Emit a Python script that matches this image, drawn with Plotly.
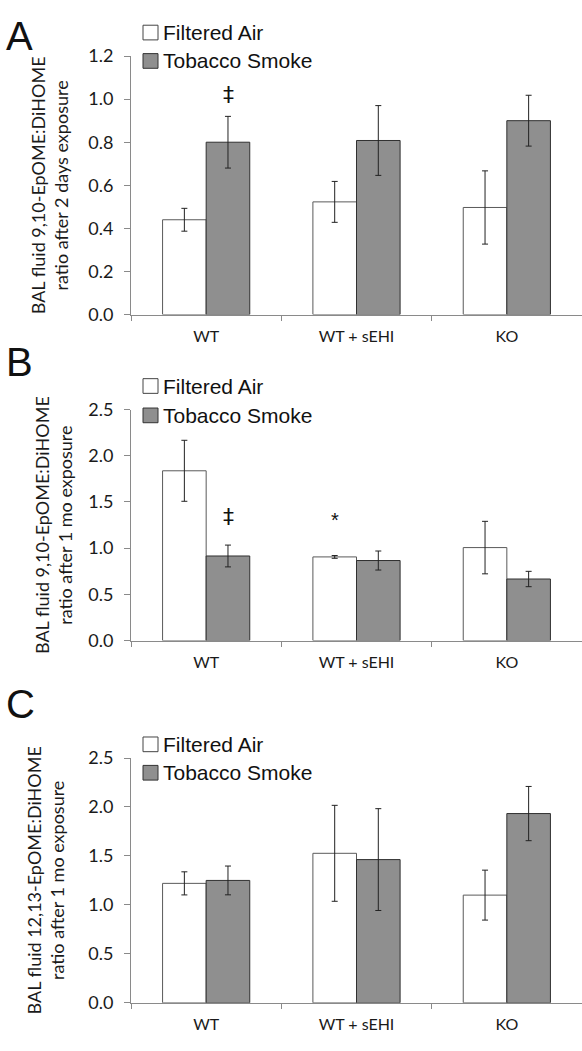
import plotly.graph_objects as go

categories = ["WT", "WT + sEHI", "KO"]
series_names = ["Filtered Air", "Tobacco Smoke"]

# Panel A: 9,10-EpOME:DiHOME, 2 days
a_air = [0.44, 0.523, 0.497]
a_air_err = [0.053, 0.095, 0.17]
a_smoke = [0.80, 0.808, 0.90]
a_smoke_err = [0.12, 0.162, 0.118]

# Panel B: 9,10-EpOME:DiHOME, 1 mo
b_air = [1.837, 0.905, 1.006]
b_air_err = [0.33, 0.015, 0.284]
b_smoke = [0.915, 0.866, 0.666]
b_smoke_err = [0.118, 0.103, 0.083]

# Panel C: 12,13-EpOME:DiHOME, 1 mo
c_air = [1.22, 1.527, 1.10]
c_air_err = [0.118, 0.49, 0.255]
c_smoke = [1.25, 1.463, 1.933]
c_smoke_err = [0.147, 0.52, 0.277]

y_titles = [
    "BAL fluid 9,10-EpOME:DiHOME<br>ratio after 2 days exposure",
    "BAL fluid 9,10-EpOME:DiHOME<br>ratio after 1 mo exposure",
    "BAL fluid 12,13-EpOME:DiHOME<br>ratio after 1 mo exposure",
]
panel_letters = ["A", "B", "C"]
y_ranges = [[0, 1.2], [0, 2.5], [0, 2.5]]
y_dticks = [0.2, 0.5, 0.5]

W, H = 582, 1051
# pixel positions (top, bottom) of each plot area
panel_px = [(45, 309), (406, 642), (762, 1012)]
x_left_px = 131

def py(p):
    return 1 - p / H

AIR_FILL = "#ffffff"
AIR_LINE = "#5a5a5a"
SMOKE_FILL = "#8f8f8f"
SMOKE_LINE = "#303030"
AXIS_COLOR = "#8a8a8a"
TICK_FONT = dict(family="Lato, 'Open Sans', sans-serif", size=18, color="#1a1a1a")

panels = [
    (a_air, a_air_err, a_smoke, a_smoke_err),
    (b_air, b_air_err, b_smoke, b_smoke_err),
    (c_air, c_air_err, c_smoke, c_smoke_err),
]

fig = go.Figure()
layout = dict(
    width=W, height=H,
    margin=dict(l=0, r=0, t=0, b=0),
    paper_bgcolor="white", plot_bgcolor="white",
    showlegend=False,
    barmode="group", bargap=0.42, bargroupgap=0.0,
)
annotations = []
shapes = []

legend_rows = [(21, 50), (382, 412), (748, 777)]
title_x = [49, 53, 45]
letter_y = [25, 357, 707]

for i, (air, air_err, smoke, smoke_err) in enumerate(panels):
    xa = "x" if i == 0 else f"x{i+1}"
    ya = "y" if i == 0 else f"y{i+1}"
    fig.add_trace(go.Bar(
        x=categories, y=air, name=series_names[0], xaxis=xa, yaxis=ya,
        marker=dict(color=AIR_FILL, line=dict(color=AIR_LINE, width=1)),
        error_y=dict(type="data", array=air_err, visible=True, color="#222222", thickness=1, width=3),
    ))
    fig.add_trace(go.Bar(
        x=categories, y=smoke, name=series_names[1], xaxis=xa, yaxis=ya,
        marker=dict(color=SMOKE_FILL, line=dict(color=SMOKE_LINE, width=1)),
        error_y=dict(type="data", array=smoke_err, visible=True, color="#222222", thickness=1, width=3),
    ))
    top, bot = panel_px[i]
    xkey = "xaxis" if i == 0 else f"xaxis{i+1}"
    ykey = "yaxis" if i == 0 else f"yaxis{i+1}"
    layout[xkey] = dict(
        domain=[x_left_px / W, 1], anchor=ya, type="category",
        range=[-0.5, 2.5], showline=True, linecolor=AXIS_COLOR, linewidth=1,
        ticks="outside", tickson="boundaries", ticklen=5, tickcolor=AXIS_COLOR,
        showgrid=False, zeroline=False, tickfont=dict(family="Lato, sans-serif", size=16, color="#1a1a1a"),
        ticklabelstandoff=7,
    )
    layout[ykey] = dict(
        domain=[py(bot), py(top)], anchor=xa, range=y_ranges[i], dtick=y_dticks[i],
        tickformat=".1f", showline=True, linecolor=AXIS_COLOR, linewidth=1,
        ticks="outside", ticklen=6, tickcolor=AXIS_COLOR, showgrid=False, zeroline=False,
        tickfont=TICK_FONT, ticklabelstandoff=7,
    )
    # y-axis title
    annotations.append(dict(
        x=title_x[i] / W, y=py((top + bot) / 2), xref="paper", yref="paper",
        text=y_titles[i], textangle=-90, showarrow=False,
        font=dict(family="Lato, sans-serif", size=18, color="#1a1a1a"),
        xanchor="center", yanchor="middle", align="center",
    ))
    # panel letter
    annotations.append(dict(
        x=4 / W, y=py(letter_y[i]), xref="paper", yref="paper", text=panel_letters[i],
        showarrow=False, font=dict(family="Liberation Sans, Arial, sans-serif", size=40, color="#111111"),
        xanchor="left", yanchor="middle",
    ))
    # legend (manual)
    for j, yy in enumerate(legend_rows[i]):
        fill = AIR_FILL if j == 0 else SMOKE_FILL
        line = "#444444" if j == 0 else "#333333"
        shapes.append(dict(
            type="rect", xref="paper", yref="paper",
            x0=143 / W, x1=158 / W, y0=py(yy + 7.5), y1=py(yy - 7.5),
            fillcolor=fill, line=dict(color=line, width=1),
        ))
        annotations.append(dict(
            x=161 / W, y=py(yy), xref="paper", yref="paper", text=series_names[j],
            showarrow=False, font=dict(family="Liberation Sans, Arial, sans-serif", size=21, color="#111111"),
            xanchor="left", yanchor="middle",
        ))

# significance markers
annotations.append(dict(x="WT", y=1.02, xref="x", yref="y", xshift=22, text="‡", showarrow=False,
                        font=dict(family="DejaVu Sans, sans-serif", size=22, color="#111111"),
                        yanchor="middle"))
annotations.append(dict(x="WT", y=1.345, xref="x2", yref="y2", xshift=22, text="‡", showarrow=False,
                        font=dict(family="DejaVu Sans, sans-serif", size=22, color="#111111"),
                        yanchor="middle"))
annotations.append(dict(x="WT + sEHI", y=1.30, xref="x2", yref="y2", xshift=-22, text="*", showarrow=False,
                        font=dict(family="Liberation Sans, Arial, sans-serif", size=20, color="#111111"),
                        yanchor="middle"))

layout["annotations"] = annotations
layout["shapes"] = shapes
fig.update_layout(**layout)
fig.write_html("out.html")
